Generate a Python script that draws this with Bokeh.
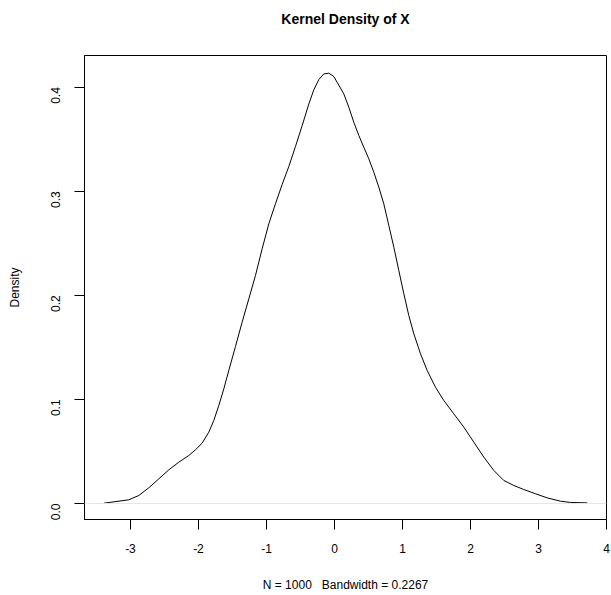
import math
from bokeh.plotting import figure
from bokeh.models import Range1d, FixedTicker, Span, LinearAxis
from bokeh.embed import file_html
from bokeh.resources import INLINE

# Density curve
xs = [-3.392, -3.025, -2.877, -2.730, -2.583, -2.436, -2.289, -2.142, -2.044, -1.946,
      -1.848, -1.775, -1.701, -1.627, -1.554, -1.456, -1.358, -1.260, -1.162, -1.064,
      -0.966, -0.868, -0.770, -0.672, -0.574, -0.475, -0.377, -0.304, -0.230, -0.157,
      -0.083, -0.010, 0.039, 0.137, 0.211, 0.284, 0.358, 0.431, 0.505, 0.578,
      0.652, 0.725, 0.799, 0.873, 0.946, 1.020, 1.093, 1.167, 1.265, 1.363,
      1.485, 1.608, 1.755, 1.902, 2.049, 2.196, 2.343, 2.490, 2.637, 2.784,
      2.956, 3.127, 3.324, 3.471, 3.716]
ys = [0.0003, 0.0035, 0.0077, 0.0151, 0.0237, 0.0323, 0.0397, 0.0461, 0.0516, 0.0580,
      0.0685, 0.0797, 0.0941, 0.1102, 0.1278, 0.1508, 0.1742, 0.1966, 0.2190, 0.2446,
      0.2687, 0.2879, 0.3064, 0.3237, 0.3429, 0.3631, 0.3839, 0.3974, 0.4073, 0.4127,
      0.4134, 0.4102, 0.4047, 0.3935, 0.3807, 0.3663, 0.3535, 0.3423, 0.3311, 0.3183,
      0.3039, 0.2879, 0.2671, 0.2462, 0.2238, 0.2014, 0.1806, 0.1630, 0.1438, 0.1278,
      0.1117, 0.0989, 0.0861, 0.0733, 0.0589, 0.0445, 0.0317, 0.0221, 0.0173, 0.0134,
      0.0093, 0.0054, 0.0022, 0.0010, 0.0006]

x_ticks = [-3, -2, -1, 0, 1, 2, 3, 4]
x_tick_labels = ["-3", "-2", "-1", "0", "1", "2", "3", "4"]
y_ticks = [0.0, 0.1, 0.2, 0.3, 0.4]
y_tick_labels = ["0.0", "0.1", "0.2", "0.3", "0.4"]

title_text = "Kernel Density of X"
x_label = "N\u00a0=\u00a01000\u00a0\u00a0\u00a0Bandwidth\u00a0=\u00a00.2267"
y_label = "Density"

FONT = "Liberation Sans"
X0, X1 = -3.676, 4.0
Y0, Y1 = -0.0154, 0.4304

p = figure(width=611, height=595, output_backend="svg", toolbar_location=None,
           x_range=Range1d(X0, X1), y_range=Range1d(Y0, Y1),
           min_border_left=84, min_border_right=5, min_border_top=55, min_border_bottom=76)

p.xgrid.visible = False
p.ygrid.visible = False
p.outline_line_color = "black"
p.outline_line_width = 1
p.background_fill_color = "white"
p.border_fill_color = "white"

zero = Span(location=0, dimension="width", line_color="#e6e6e6", line_width=1)
p.add_layout(zero)

p.line(xs, ys, line_color="black", line_width=1)

xa = p.below[0]
ya = p.left[0]

# Title: an invisible axis above the frame that carries only its label
top = LinearAxis(ticker=FixedTicker(ticks=[]), axis_line_color=None,
                 major_tick_line_color=None, minor_tick_line_color=None,
                 major_tick_out=0, major_tick_in=0, major_label_standoff=0,
                 axis_label=title_text, axis_label_standoff=29,
                 axis_label_text_font=FONT, axis_label_text_font_size="14px",
                 axis_label_text_font_style="bold", axis_label_text_color="black")
p.add_layout(top, "above")

xa.ticker = FixedTicker(ticks=x_ticks)
xa.major_label_overrides = {t: l for t, l in zip(x_ticks, x_tick_labels)}
xa.minor_tick_line_color = None
xa.major_tick_in = 0
xa.major_tick_out = 10
xa.axis_line_color = "black"
xa.major_tick_line_color = "black"
xa.major_label_text_font = FONT
xa.major_label_text_font_size = "12px"
xa.major_label_text_color = "black"
xa.major_label_standoff = 14
xa.axis_label = x_label
xa.axis_label_text_font = FONT
xa.axis_label_text_font_size = "12px"
xa.axis_label_text_font_style = "normal"
xa.axis_label_text_color = "black"
xa.axis_label_standoff = 22

ya.ticker = FixedTicker(ticks=y_ticks)
ya.major_label_overrides = {t: l for t, l in zip(y_ticks, y_tick_labels)}
ya.minor_tick_line_color = None
ya.major_tick_in = 0
ya.major_tick_out = 10
ya.axis_line_color = "black"
ya.major_tick_line_color = "black"
ya.major_label_text_font = FONT
ya.major_label_text_font_size = "12px"
ya.major_label_text_color = "black"
ya.major_label_orientation = math.pi / 2
ya.major_label_standoff = 19
ya.axis_label = y_label
ya.axis_label_text_font = FONT
ya.axis_label_text_font_size = "12px"
ya.axis_label_text_font_style = "normal"
ya.axis_label_text_color = "black"
ya.axis_label_standoff = 22

open("out.html", "w").write(file_html(p, INLINE))
